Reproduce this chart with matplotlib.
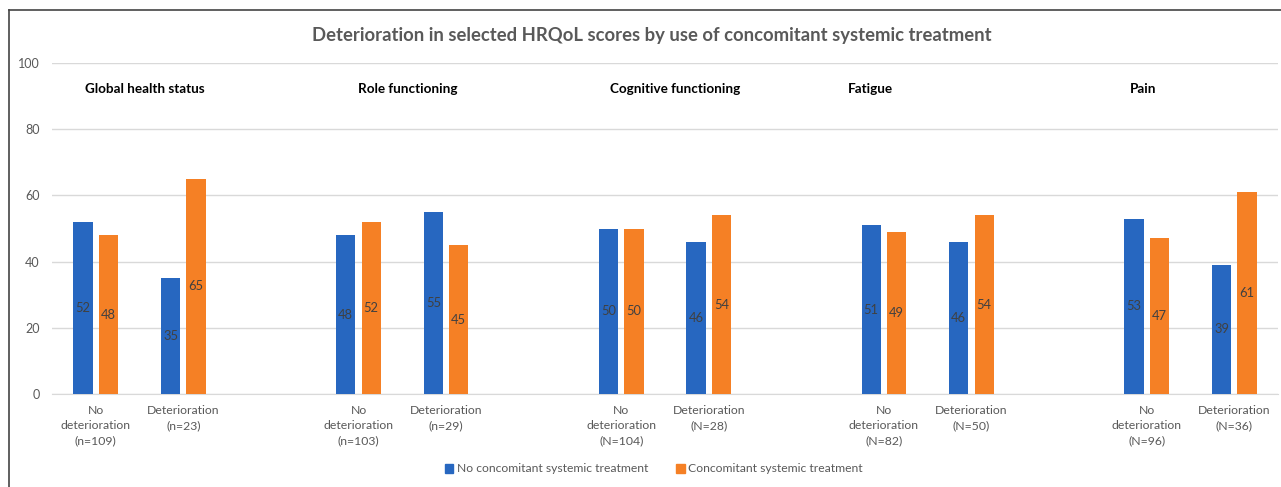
import matplotlib.pyplot as plt
from matplotlib.lines import Line2D
from matplotlib.patches import Patch

plt.rcParams['font.family'] = ['Lato', 'DejaVu Sans']

# data
groups = ['Global health status', 'Role functioning', 'Cognitive functioning', 'Fatigue', 'Pain']
cat_labels = [
    'No\ndeterioration\n(n=109)', 'Deterioration\n(n=23)',
    'No\ndeterioration\n(n=103)', 'Deterioration\n(n=29)',
    'No\ndeterioration\n(N=104)', 'Deterioration\n(N=28)',
    'No\ndeterioration\n(N=82)', 'Deterioration\n(N=50)',
    'No\ndeterioration\n(N=96)', 'Deterioration\n(N=36)',
]
no_treatment = [52, 35, 48, 55, 50, 46, 51, 46, 53, 39]
treatment = [48, 65, 52, 45, 50, 54, 49, 54, 47, 61]

blue = '#2767c0'
orange = '#f58025'
grey = '#595959'

# each group takes two slots plus one empty slot between groups
xpos = [(i // 2) * 3 + (i % 2) for i in range(len(cat_labels))]
# group title positions (placed by hand in the original)
title_x = [0.56, 3.56, 6.62, 8.85, 11.96]

fig = plt.figure(figsize=(12.81, 4.87), dpi=100)
ax = fig.add_axes([52 / 1281, 1 - 394 / 487, 1226 / 1281, 331 / 487])

w = 0.22
off = 0.145
b1 = ax.bar([x - off for x in xpos], no_treatment, w, color=blue, zorder=3)
b2 = ax.bar([x + off for x in xpos], treatment, w, color=orange, zorder=3)
ax.bar_label(b1, label_type='center', color='#404040', fontsize=9.3)
ax.bar_label(b2, label_type='center', color='#404040', fontsize=9.3)

ax.set_xlim(-0.5, 13.5)
ax.set_ylim(0, 100)
ax.set_yticks([0, 20, 40, 60, 80, 100])
ax.set_xticks(xpos)
ax.set_xticklabels(cat_labels, color=grey, fontsize=8.8, linespacing=1.45)
ax.tick_params(axis='y', length=0, labelsize=9, labelcolor=grey, pad=9)
ax.tick_params(axis='x', length=0, pad=8)
ax.grid(axis='y', color='#d9d9d9', linewidth=1, zorder=0)
for s in ['top', 'right', 'left']:
    ax.spines[s].set_visible(False)
ax.spines['bottom'].set_color('#d9d9d9')

for name, x in zip(groups, title_x):
    ax.text(x, 92, name, ha='center', va='center', fontsize=9.7, fontweight='bold', color='black')

fig.text(652 / 1281, 1 - 35 / 487, 'Deterioration in selected HRQoL scores by use of concomitant systemic treatment',
         ha='center', va='center', fontsize=13.3, fontweight='bold', color=grey)

handles = [Patch(color=blue, label='No concomitant systemic treatment'),
           Patch(color=orange, label='Concomitant systemic treatment')]
fig.legend(handles=handles, loc='center', bbox_to_anchor=(654 / 1281, 1 - 469 / 487), ncol=2,
           frameon=False, fontsize=8.7, labelcolor=grey, handlelength=0.7, handleheight=0.7,
           handletextpad=0.3, columnspacing=2.3)

# frame lines on top and left
fig.add_artist(Line2D([9 / 1281, 9 / 1281], [0, 1 - 10 / 487], color='#444444', linewidth=1.2))
fig.add_artist(Line2D([9 / 1281, 1], [1 - 10 / 487, 1 - 10 / 487], color='#444444', linewidth=1.2))

fig.savefig('out.png', dpi=100)
